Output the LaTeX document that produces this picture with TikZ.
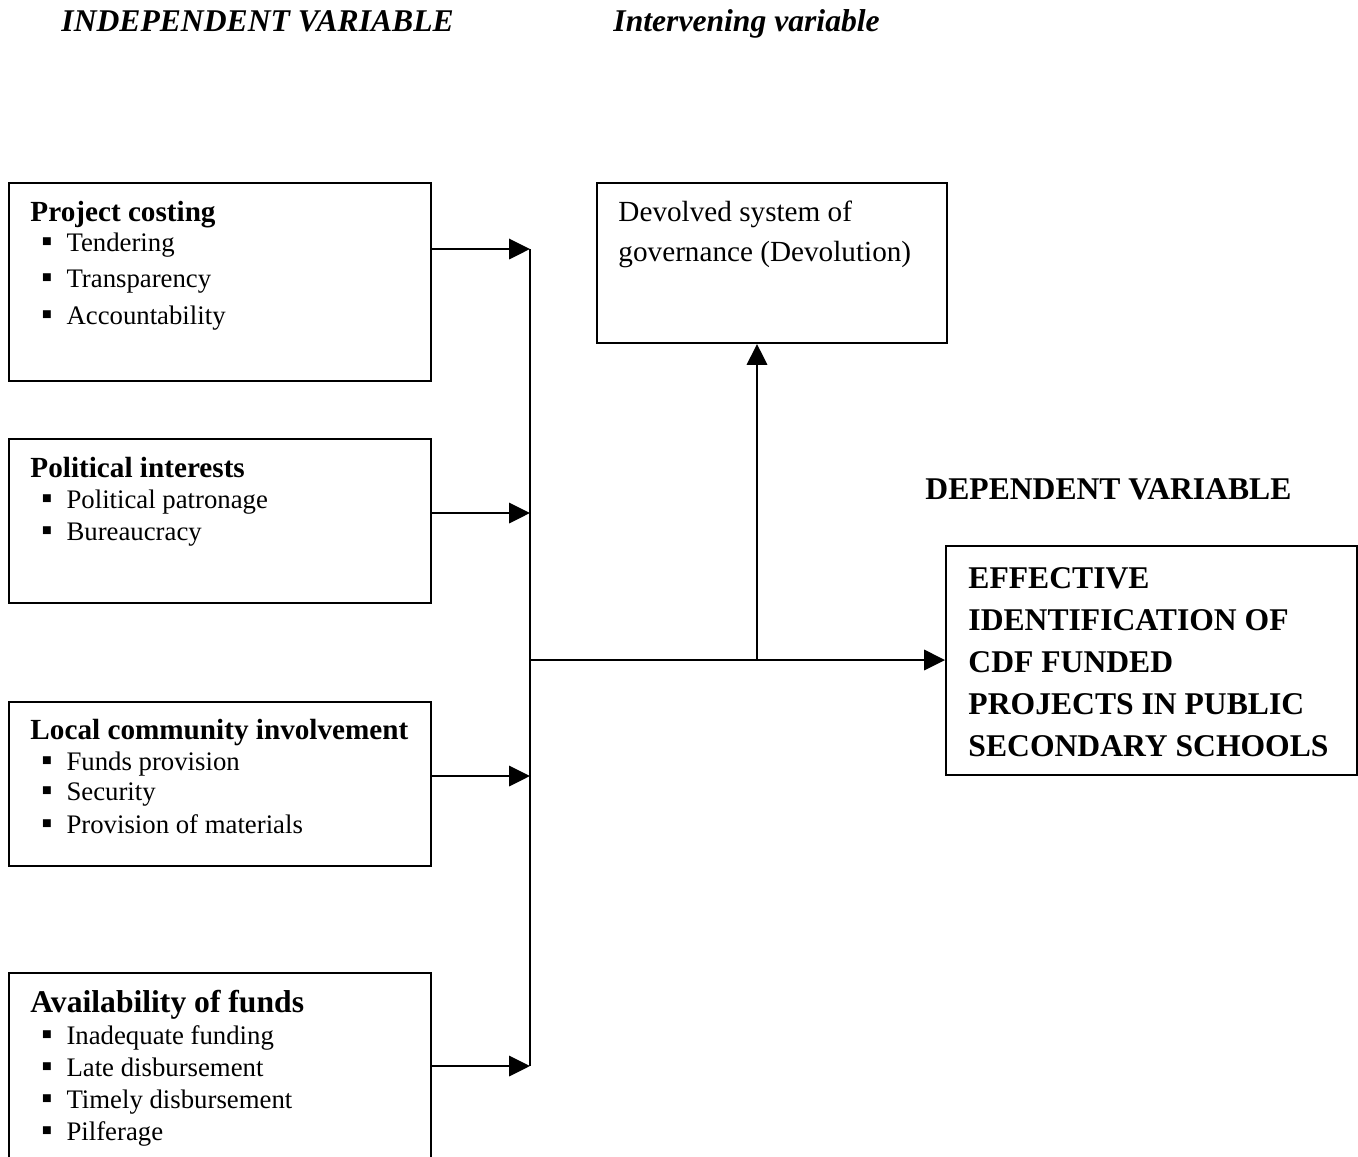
\documentclass[tikz,border=0pt]{standalone}
\usepackage{fontspec}
\setmainfont{Liberation Serif}
\usetikzlibrary{arrows.meta,fit}

\begin{document}
\begin{tikzpicture}[x=0.411pt,y=-0.411pt,
varbox/.style={draw=black, line width=0.8pt, inner sep=0pt},
headtext/.style={anchor=base west, inner sep=0pt, font=\fontsize{12}{14}\selectfont\bfseries},
itemtext/.style={anchor=base west, inner sep=0pt, font=\fontsize{11}{13}\selectfont},
captext/.style={anchor=base west, inner sep=0pt, font=\fontsize{13}{15}\selectfont\bfseries},
flow/.style={line width=0.8pt, -{Triangle[length=8.6pt,width=8.4pt]}}
]
        \clip (0,0) rectangle (1358,1156);

        % column titles
        \node [captext,font=\fontsize{13}{15}\selectfont\bfseries\itshape] (indep) at (61, 31) {INDEPENDENT VARIABLE};
        \node [captext,font=\fontsize{13}{15}\selectfont\bfseries\itshape] (inter) at (613, 31) {Intervening variable};
        \node [captext] (deplab) at (925, 499) {DEPENDENT VARIABLE};

        % independent variables
        \node [varbox, fit={(9,183) (431,381)}] (cost) {};
        \node [headtext] (costh) at (30, 221) {Project costing};
        \foreach \t [count=\i] in {Tendering, Transparency, Accountability}
            \node [itemtext] (cost\i) at (41, {251+36.5*(\i-1)}) {\makebox[10.3pt][l]{\fontsize{13}{13}\selectfont▪}\t};

        \node [varbox, fit={(9,439) (431,603)}] (pol) {};
        \node [headtext] (polh) at (30, 477) {Political interests};
        \foreach \t [count=\i] in {Political patronage, Bureaucracy}
            \node [itemtext] (pol\i) at (41, {508+32*(\i-1)}) {\makebox[10.3pt][l]{\fontsize{13}{13}\selectfont▪}\t};

        \node [varbox, fit={(9,702) (431,866)}] (local) {};
        \node [headtext] (localh) at (30, 739) {Local community involvement};
        \node [itemtext] (local1) at (41, 770) {\makebox[10.3pt][l]{\fontsize{13}{13}\selectfont▪}Funds provision};
        \node [itemtext] (local2) at (41, 800) {\makebox[10.3pt][l]{\fontsize{13}{13}\selectfont▪}Security};
        \node [itemtext] (local3) at (41, 833) {\makebox[10.3pt][l]{\fontsize{13}{13}\selectfont▪}Provision of materials};

        \node [varbox, fit={(9,973) (431,1200)}] (funds) {};
        \node [headtext,font=\fontsize{13}{15}\selectfont\bfseries] (fundsh) at (30, 1012) {Availability of funds};
        \foreach \t [count=\i] in {Inadequate funding, Late disbursement, Timely disbursement, Pilferage}
            \node [itemtext] (funds\i) at (41, {1044+32*(\i-1)}) {\makebox[10.3pt][l]{\fontsize{13}{13}\selectfont▪}\t};

        % intervening variable
        \node [varbox, fit={(597,183) (947,343)}] (dev) {};
        \node [itemtext,font=\fontsize{12}{14}\selectfont] (dev1) at (618, 221) {Devolved system of};
        \node [itemtext,font=\fontsize{12}{14}\selectfont] (dev2) at (618, 261) {governance (Devolution)};

        % dependent variable
        \node [varbox, fit={(946,546) (1357,775)}] (dep) {};
        \foreach \t [count=\i] in {EFFECTIVE, IDENTIFICATION OF, CDF FUNDED, PROJECTS IN PUBLIC, SECONDARY SCHOOLS}
            \node [captext] (dep\i) at (968, {588+42*(\i-1)}) {\t};

        % connectors
        \coordinate (bus1) at (530, 249);
        \coordinate (bus2) at (530, 513);
        \coordinate (bus3) at (530, 776);
        \coordinate (bus4) at (530, 1066);
        \coordinate (hub) at (530, 660);
        \coordinate (split) at (757, 660);

        \draw [line width=0.8pt] (bus1) -- (bus4);
        \draw [flow] (cost.east |- bus1) -- (bus1);
        \draw [flow] (pol.east |- bus2) -- (bus2);
        \draw [flow] (local.east |- bus3) -- (bus3);
        \draw [flow] (funds.east |- bus4) -- (bus4);
        \draw [flow] (hub) -- (dep.west |- hub);
        \draw [flow] (split) -- (split |- dev.south);

\end{tikzpicture}
\end{document}
